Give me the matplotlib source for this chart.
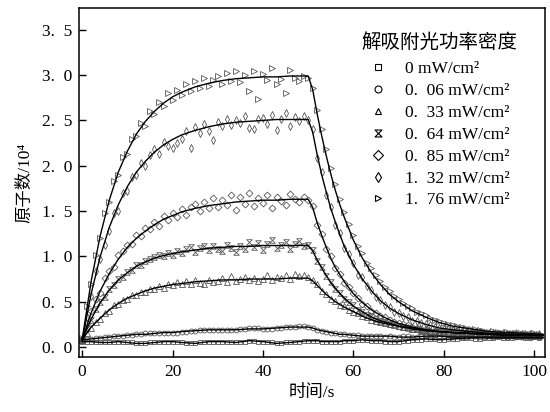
import numpy as np
import matplotlib
matplotlib.use('Agg')
import matplotlib.pyplot as plt
from matplotlib.path import Path
from matplotlib.lines import Line2D

plt.rcParams['font.family'] = ['Liberation Serif', 'Noto Sans CJK SC', 'DejaVu Serif']

# 激光功率 (legend labels)
powers = ['0', '0.\u200206', '0.\u200233', '0.\u200264', '0.\u200285', '1.\u200232', '1.\u200276']

# measured points, one per second
t_pts = np.arange(0, 102)

n_176 = [0.10, 0.45, 0.70, 1.02, 1.20, 1.48, 1.60, 1.83, 1.90, 2.10,
         2.13, 2.30, 2.33, 2.47, 2.44, 2.60, 2.57, 2.70, 2.66, 2.80,
         2.72, 2.84, 2.78, 2.90, 2.82, 2.94, 2.86, 2.97, 2.88, 2.95,
         2.99, 2.90, 3.02, 2.93, 3.05, 2.92, 3.00, 2.82, 3.04, 2.74,
         3.01, 2.95, 3.08, 2.90, 2.96, 2.80, 3.06, 2.97, 2.93, 2.99,
         2.97, 2.86, 2.62, 2.40, 2.18, 1.97, 1.80, 1.63, 1.49, 1.36,
         1.24, 1.12, 1.04, 0.93, 0.87, 0.79, 0.73, 0.66, 0.62, 0.56,
         0.53, 0.49, 0.45, 0.43, 0.39, 0.37, 0.35, 0.32, 0.30, 0.29,
         0.27, 0.25, 0.24, 0.23, 0.22, 0.21, 0.20, 0.20, 0.19, 0.18,
         0.17, 0.18, 0.17, 0.16, 0.17, 0.15, 0.16, 0.15, 0.16, 0.14, 0.15, 0.14]
n_132 = [0.09, 0.33, 0.56, 0.84, 0.97, 1.13, 1.28, 1.48, 1.50, 1.70,
         1.72, 1.88, 1.90, 2.03, 2.00, 2.12, 2.18, 2.13, 2.26, 2.22,
         2.20, 2.25, 2.30, 2.38, 2.20, 2.43, 2.36, 2.46, 2.38, 2.28,
         2.48, 2.44, 2.52, 2.45, 2.50, 2.47, 2.55, 2.42, 2.40, 2.52,
         2.53, 2.46, 2.56, 2.39, 2.52, 2.58, 2.44, 2.54, 2.49, 2.55,
         2.50, 2.40, 2.08, 1.93, 1.68, 1.55, 1.35, 1.26, 1.09, 1.03,
         0.93, 0.80, 0.77, 0.67, 0.63, 0.55, 0.52, 0.46, 0.44, 0.39,
         0.38, 0.34, 0.33, 0.29, 0.29, 0.26, 0.25, 0.24, 0.22, 0.21,
         0.20, 0.20, 0.19, 0.18, 0.18, 0.17, 0.17, 0.16, 0.17, 0.16,
         0.15, 0.15, 0.14, 0.15, 0.14, 0.14, 0.15, 0.13, 0.14, 0.14, 0.13, 0.14]
n_085 = [0.09, 0.26, 0.40, 0.53, 0.60, 0.76, 0.84, 0.88, 1.01, 1.06,
         1.13, 1.14, 1.24, 1.22, 1.31, 1.30, 1.38, 1.34, 1.44, 1.40,
         1.48, 1.43, 1.52, 1.46, 1.55, 1.58, 1.50, 1.60, 1.53, 1.64,
         1.55, 1.62, 1.57, 1.68, 1.51, 1.66, 1.58, 1.70, 1.56, 1.64,
         1.59, 1.68, 1.53, 1.66, 1.61, 1.57, 1.69, 1.63, 1.60, 1.66,
         1.62, 1.56, 1.35, 1.25, 1.08, 1.00, 0.87, 0.81, 0.71, 0.66,
         0.60, 0.54, 0.48, 0.45, 0.40, 0.38, 0.34, 0.33, 0.30, 0.28,
         0.27, 0.25, 0.24, 0.22, 0.21, 0.20, 0.20, 0.18, 0.18, 0.17,
         0.17, 0.16, 0.17, 0.16, 0.15, 0.16, 0.15, 0.15, 0.14, 0.15,
         0.14, 0.14, 0.15, 0.13, 0.14, 0.13, 0.14, 0.13, 0.12, 0.14, 0.13, 0.13]
n_064 = [0.08, 0.21, 0.30, 0.42, 0.50, 0.55, 0.64, 0.68, 0.75, 0.77,
         0.83, 0.85, 0.90, 0.91, 0.95, 0.97, 0.99, 1.01, 1.00, 1.04,
         1.02, 1.06, 1.04, 1.08, 1.10, 1.05, 1.09, 1.12, 1.07, 1.11,
         1.08, 1.06, 1.13, 1.09, 1.05, 1.12, 1.08, 1.16, 1.10, 1.15,
         1.07, 1.14, 1.18, 1.09, 1.13, 1.16, 1.08, 1.14, 1.17, 1.11,
         1.13, 1.07, 0.95, 0.88, 0.78, 0.72, 0.64, 0.60, 0.53, 0.50,
         0.46, 0.41, 0.39, 0.35, 0.34, 0.31, 0.29, 0.28, 0.25, 0.25,
         0.23, 0.22, 0.21, 0.20, 0.20, 0.18, 0.18, 0.17, 0.17, 0.17,
         0.16, 0.16, 0.15, 0.16, 0.15, 0.15, 0.14, 0.15, 0.14, 0.14,
         0.14, 0.13, 0.14, 0.13, 0.13, 0.14, 0.12, 0.13, 0.13, 0.12, 0.13, 0.12]
n_033 = [0.08, 0.16, 0.21, 0.28, 0.31, 0.38, 0.40, 0.46, 0.47, 0.52,
         0.53, 0.57, 0.57, 0.61, 0.61, 0.64, 0.64, 0.67, 0.65, 0.70,
         0.68, 0.72, 0.69, 0.73, 0.70, 0.74, 0.71, 0.69, 0.74, 0.72,
         0.73, 0.76, 0.72, 0.78, 0.73, 0.75, 0.77, 0.74, 0.76, 0.73,
         0.75, 0.79, 0.74, 0.77, 0.76, 0.80, 0.75, 0.81, 0.78, 0.79,
         0.77, 0.74, 0.69, 0.62, 0.59, 0.53, 0.51, 0.46, 0.45, 0.41,
         0.39, 0.37, 0.34, 0.33, 0.30, 0.29, 0.28, 0.26, 0.25, 0.24,
         0.23, 0.22, 0.22, 0.20, 0.20, 0.19, 0.19, 0.18, 0.18, 0.17,
         0.17, 0.17, 0.16, 0.16, 0.16, 0.15, 0.15, 0.15, 0.14, 0.15,
         0.14, 0.14, 0.14, 0.13, 0.14, 0.13, 0.13, 0.14, 0.13, 0.13, 0.12, 0.13]
n_006 = [0.08, 0.09, 0.09, 0.10, 0.10, 0.11, 0.11, 0.12, 0.12, 0.12,
         0.13, 0.13, 0.14, 0.14, 0.15, 0.15, 0.15, 0.15, 0.16, 0.16,
         0.16, 0.16, 0.17, 0.17, 0.18, 0.18, 0.19, 0.19, 0.19, 0.19,
         0.19, 0.19, 0.19, 0.19, 0.19, 0.20, 0.20, 0.21, 0.21, 0.21,
         0.20, 0.20, 0.20, 0.21, 0.21, 0.22, 0.22, 0.22, 0.23, 0.23,
         0.22, 0.21, 0.19, 0.18, 0.17, 0.16, 0.15, 0.14, 0.14, 0.13,
         0.13, 0.13, 0.12, 0.12, 0.12, 0.12, 0.12, 0.11, 0.12, 0.11,
         0.11, 0.12, 0.12, 0.11, 0.11, 0.12, 0.12, 0.11, 0.12, 0.12,
         0.12, 0.11, 0.11, 0.12, 0.11, 0.11, 0.12, 0.12, 0.11, 0.11,
         0.12, 0.11, 0.12, 0.12, 0.11, 0.12, 0.11, 0.11, 0.12, 0.11, 0.12, 0.11]
n_000 = [0.06, 0.06, 0.06, 0.05, 0.05, 0.05, 0.05, 0.06, 0.06, 0.06,
         0.05, 0.05, 0.04, 0.04, 0.04, 0.05, 0.05, 0.06, 0.06, 0.06,
         0.06, 0.05, 0.05, 0.04, 0.04, 0.04, 0.05, 0.05, 0.06, 0.06,
         0.06, 0.06, 0.05, 0.05, 0.05, 0.06, 0.06, 0.07, 0.07, 0.06,
         0.06, 0.05, 0.05, 0.04, 0.04, 0.05, 0.05, 0.06, 0.06, 0.07,
         0.07, 0.07, 0.07, 0.06, 0.06, 0.06, 0.06, 0.06, 0.07, 0.07,
         0.07, 0.08, 0.08, 0.08, 0.07, 0.07, 0.07, 0.06, 0.06, 0.06,
         0.06, 0.07, 0.07, 0.08, 0.08, 0.08, 0.09, 0.09, 0.09, 0.08,
         0.08, 0.09, 0.09, 0.09, 0.10, 0.10, 0.10, 0.09, 0.09, 0.10,
         0.10, 0.10, 0.11, 0.10, 0.10, 0.10, 0.11, 0.11, 0.10, 0.10, 0.11, 0.10]

# fitted curves
t_fit = [0, 2, 4, 6, 8, 10, 12, 14, 16, 18, 20, 22, 25, 28, 31, 34, 37, 40, 43, 46, 48, 50,
         51, 52, 53, 54, 55, 56, 57, 58, 60, 62, 64, 66, 68, 70, 73, 76, 79, 82, 86, 90, 94, 98, 102]
fit_176 = [0.08, 0.73, 1.23, 1.62, 1.93, 2.16, 2.35, 2.49, 2.60, 2.69, 2.76, 2.81, 2.87, 2.91, 2.94,
           2.96, 2.97, 2.98, 2.98, 2.99, 2.99, 2.99, 2.84, 2.57, 2.33, 2.11, 1.91, 1.73, 1.57, 1.43,
           1.18, 0.98, 0.82, 0.69, 0.58, 0.50, 0.40, 0.33, 0.27, 0.23, 0.20, 0.17, 0.16, 0.15, 0.14]
fit_132 = [0.08, 0.59, 1.00, 1.32, 1.57, 1.77, 1.93, 2.05, 2.15, 2.23, 2.29, 2.34, 2.39, 2.43, 2.46,
           2.48, 2.49, 2.50, 2.51, 2.51, 2.51, 2.51, 2.37, 2.12, 1.90, 1.71, 1.53, 1.38, 1.24, 1.11,
           0.91, 0.75, 0.62, 0.51, 0.43, 0.37, 0.30, 0.25, 0.21, 0.19, 0.17, 0.15, 0.14, 0.14, 0.13]
fit_085 = [0.08, 0.38, 0.62, 0.81, 0.97, 1.10, 1.20, 1.28, 1.35, 1.41, 1.45, 1.49, 1.53, 1.56, 1.58,
           1.60, 1.61, 1.62, 1.62, 1.63, 1.63, 1.63, 1.54, 1.37, 1.23, 1.10, 0.98, 0.88, 0.80, 0.72,
           0.59, 0.49, 0.41, 0.35, 0.30, 0.26, 0.22, 0.19, 0.17, 0.16, 0.15, 0.14, 0.13, 0.13, 0.13]
fit_064 = [0.08, 0.31, 0.49, 0.63, 0.74, 0.82, 0.89, 0.94, 0.98, 1.01, 1.03, 1.05, 1.07, 1.09, 1.10,
           1.11, 1.11, 1.12, 1.12, 1.12, 1.12, 1.12, 1.06, 0.96, 0.87, 0.79, 0.71, 0.65, 0.59, 0.54,
           0.45, 0.39, 0.33, 0.29, 0.26, 0.23, 0.20, 0.18, 0.17, 0.16, 0.15, 0.14, 0.13, 0.13, 0.13]
fit_033 = [0.08, 0.22, 0.32, 0.41, 0.48, 0.54, 0.58, 0.62, 0.65, 0.67, 0.69, 0.70, 0.72, 0.73, 0.74,
           0.74, 0.75, 0.75, 0.75, 0.76, 0.76, 0.76, 0.73, 0.68, 0.63, 0.58, 0.54, 0.50, 0.47, 0.44,
           0.39, 0.34, 0.30, 0.27, 0.25, 0.23, 0.21, 0.19, 0.17, 0.16, 0.15, 0.14, 0.14, 0.13, 0.13]
fit_006 = [0.08, 0.09, 0.10, 0.11, 0.12, 0.13, 0.14, 0.14, 0.15, 0.16, 0.16, 0.17, 0.18, 0.19, 0.19,
           0.19, 0.20, 0.20, 0.21, 0.22, 0.22, 0.22, 0.21, 0.19, 0.18, 0.17, 0.16, 0.15, 0.14, 0.14,
           0.13, 0.12, 0.12, 0.12, 0.12, 0.11, 0.11, 0.12, 0.12, 0.11, 0.11, 0.11, 0.11, 0.11, 0.11]
fit_000 = [0.06, 0.06, 0.05, 0.05, 0.06, 0.05, 0.04, 0.04, 0.05, 0.06, 0.06, 0.05, 0.04, 0.06, 0.06,
           0.05, 0.07, 0.06, 0.04, 0.05, 0.06, 0.07, 0.07, 0.07, 0.06, 0.06, 0.06, 0.06, 0.06, 0.07,
           0.07, 0.08, 0.07, 0.07, 0.06, 0.06, 0.08, 0.09, 0.08, 0.09, 0.10, 0.10, 0.10, 0.10, 0.10]

# hourglass marker for 0.64
hourglass = Path([(-1, 1), (1, 1), (-1, -1), (1, -1), (-1, 1)],
                 [Path.MOVETO, Path.LINETO, Path.LINETO, Path.LINETO, Path.CLOSEPOLY])

series = [n_000, n_006, n_033, n_064, n_085, n_132, n_176]
fits = [fit_000, fit_006, fit_033, fit_064, fit_085, fit_132, fit_176]
markers = ['s', 'o', '^', hourglass, 'D', 'd', '>']
msizes = [3.5, 3.5, 4.5, 4.0, 3.5, 4.0, 5.0]

fig = plt.figure(figsize=(5.5, 4.12), dpi=100)
ax = fig.add_axes([79 / 550, 55 / 412, 466 / 550, 349 / 412])

for vals, fit, mk, ms in zip(series, fits, markers, msizes):
    ax.plot(t_pts, vals, linestyle='none', marker=mk, ms=ms, mfc='none',
            mec='#555555', mew=0.6, zorder=2)
    ax.plot(t_fit, fit, color='black', lw=1.0, zorder=3)

ax.set_xlim(-0.7, 102.4)
ax.set_ylim(-0.11, 3.74)
ax.set_xticks([0, 20, 40, 60, 80, 100])
yt = [0, 0.5, 1.0, 1.5, 2.0, 2.5, 3.0, 3.5]
ax.set_yticks(yt)
ax.set_yticklabels(['%d.\u2002%d' % (int(v), int(round(v * 10)) % 10) for v in yt])
ax.tick_params(direction='in', length=5, width=1, labelsize=12.5, pad=5)
for s in ax.spines.values():
    s.set_linewidth(1.1)

ax.set_xlabel('时间/s', fontsize=12.5, labelpad=4)
ax.set_ylabel('原子数/10\u2074', fontsize=12.5, labelpad=6)

# legend
handles = [Line2D([], [], linestyle='none', marker=mk, ms=5, mfc='none', mec='black', mew=0.8)
           for mk in markers]
labels = [p + ' mW/cm\u00b2' for p in powers]
ax.legend(handles, labels, loc='upper left', bbox_to_anchor=(0.623, 0.848), frameon=False,
          fontsize=12.5, handlelength=1.0, handletextpad=1.05, labelspacing=0.33, borderpad=0,
          borderaxespad=0)
ax.text(0.607, 0.900, '解吸附光功率密度', transform=ax.transAxes, fontsize=14, va='center', ha='left')

fig.savefig('out.png', dpi=100)
